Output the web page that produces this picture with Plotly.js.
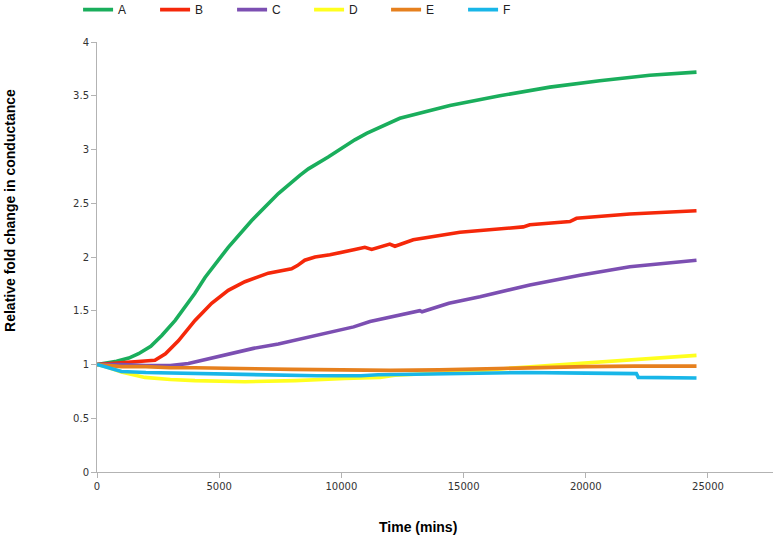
<!DOCTYPE html>
<html>
<head>
<meta charset="utf-8">
<script src="https://cdn.plot.ly/plotly-3.0.1.min.js"></script>
<style>html,body{margin:0;padding:0;background:#fff}#chart{width:777px;height:538px}</style>
</head>
<body>
<div id="chart"></div>
<script>
// Series names
const seriesNames = ["A", "B", "C", "D", "E", "F"];

// A (green)
const tA = [0, 800, 1300, 1700, 2200, 2650, 3200, 3600, 4000, 4420, 5370, 6330, 7420, 8300, 8650, 9460, 10550, 11030, 12390, 14440, 16480, 18530, 20570, 22620, 24530];
const yA = [1.00, 1.03, 1.06, 1.10, 1.17, 1.27, 1.41, 1.53, 1.66, 1.81, 2.09, 2.34, 2.59, 2.76, 2.82, 2.93, 3.09, 3.15, 3.29, 3.41, 3.50, 3.58, 3.64, 3.69, 3.72];

// B (red)
const tB = [0, 600, 1280, 2000, 2370, 2800, 3330, 4010, 4690, 5370, 6050, 7010, 7960, 8200, 8500, 8920, 9530, 10550, 10960, 11240, 11980, 12190, 12940, 14850, 17440, 17710, 19350, 19620, 21800, 24530];
const yB = [1.00, 1.01, 1.02, 1.03, 1.04, 1.10, 1.22, 1.41, 1.57, 1.69, 1.77, 1.85, 1.89, 1.92, 1.97, 2.00, 2.02, 2.07, 2.09, 2.07, 2.12, 2.10, 2.16, 2.23, 2.28, 2.30, 2.33, 2.36, 2.40, 2.43];

// C (purple)
const tC = [0, 1000, 2000, 3000, 3740, 4500, 5370, 6400, 7420, 8400, 9460, 10500, 11170, 12000, 13210, 13300, 14400, 15670, 17710, 19760, 21800, 24530];
const yC = [1.00, 1.00, 0.99, 0.99, 1.01, 1.05, 1.10, 1.15, 1.19, 1.24, 1.29, 1.35, 1.40, 1.44, 1.50, 1.49, 1.57, 1.63, 1.74, 1.83, 1.91, 1.97];

// D (yellow)
const tD = [0, 500, 1000, 1960, 3000, 4010, 6050, 8100, 10140, 11580, 12190, 13000, 15000, 17440, 19760, 22000, 24530];
const yD = [1.00, 0.97, 0.93, 0.88, 0.86, 0.85, 0.84, 0.85, 0.87, 0.88, 0.90, 0.91, 0.93, 0.975, 1.01, 1.05, 1.085];

// E (orange)
const tE = [0, 500, 1000, 2000, 3000, 4000, 6000, 8000, 10000, 12000, 14000, 16000, 17400, 20000, 22000, 24530];
const yE = [1.00, 0.99, 0.98, 0.98, 0.97, 0.97, 0.96, 0.955, 0.95, 0.945, 0.95, 0.96, 0.975, 0.98, 0.985, 0.985];

// F (cyan)
const tF = [0, 500, 1000, 2000, 4000, 6000, 8100, 9000, 10800, 11500, 13000, 15000, 17440, 20000, 22070, 22150, 24530];
const yF = [1.00, 0.97, 0.935, 0.925, 0.915, 0.91, 0.90, 0.895, 0.895, 0.905, 0.91, 0.915, 0.925, 0.92, 0.915, 0.88, 0.875];

const xTicks = [0, 5000, 10000, 15000, 20000, 25000];
const yTicks = [0, 0.5, 1, 1.5, 2, 2.5, 3, 3.5, 4];
const yTickText = ["0", "0.5", "1", "1.5", "2", "2.5", "3", "3.5", "4"];

const colors = ["#1aae5c", "#f5280a", "#7c4fb2", "#ffff1e", "#e6801e", "#18b6e8"];
const xs = [tA, tB, tC, tD, tE, tF];
const ys = [yA, yB, yC, yD, yE, yF];

const traces = seriesNames.map((n, i) => ({
  type: "scatter",
  mode: "lines",
  name: n,
  x: xs[i],
  y: ys[i],
  line: {color: colors[i], width: 3.6, shape: "linear"},
  hoverinfo: "skip"
}));

const axisCommon = {
  showgrid: false,
  zeroline: false,
  showline: true,
  linecolor: "#b3b3b3",
  linewidth: 1,
  ticks: "outside",
  ticklen: 5,
  tickcolor: "#b3b3b3",
  tickfont: {family: "DejaVu Sans, Verdana, sans-serif", size: 10, color: "#333333"}
};

const layout = {
  width: 777,
  height: 538,
  margin: {l: 97, r: 4, t: 42, b: 66, autoexpand: false},
  paper_bgcolor: "#ffffff",
  plot_bgcolor: "#ffffff",
  showlegend: true,
  legend: {
    orientation: "h",
    x: -0.028, xanchor: "left",
    y: 1.109, yanchor: "top",
    entrywidth: 32, entrywidthmode: "pixels",
    itemwidth: 30,
    font: {family: "Liberation Sans Narrow, Arial Narrow, Liberation Sans, sans-serif", size: 12, color: "#222"},
    bgcolor: "rgba(0,0,0,0)"
  },
  xaxis: Object.assign({}, axisCommon, {
    range: [0, 27660],
    tickvals: xTicks,
    ticktext: xTicks.map(String)
  }),
  yaxis: Object.assign({}, axisCommon, {
    range: [0, 4],
    tickvals: yTicks,
    ticktext: yTickText
  }),
  annotations: [
    {text: "<b>Time (mins)</b>", xref: "paper", yref: "paper", x: 0.475, y: -0.128,
     xanchor: "center", yanchor: "middle", showarrow: false,
     font: {family: "Liberation Sans, Arial, sans-serif", size: 14, color: "#000"}},
    {text: "<b>Relative fold change in conductance</b>", xref: "paper", yref: "paper", x: -0.129, y: 0.609,
     xanchor: "center", yanchor: "middle", textangle: -90, showarrow: false,
     font: {family: "Liberation Sans, Arial, sans-serif", size: 14, color: "#000"}}
  ]
};

Plotly.newPlot("chart", traces, layout, {staticPlot: true, displayModeBar: false});
</script>
</body>
</html>
